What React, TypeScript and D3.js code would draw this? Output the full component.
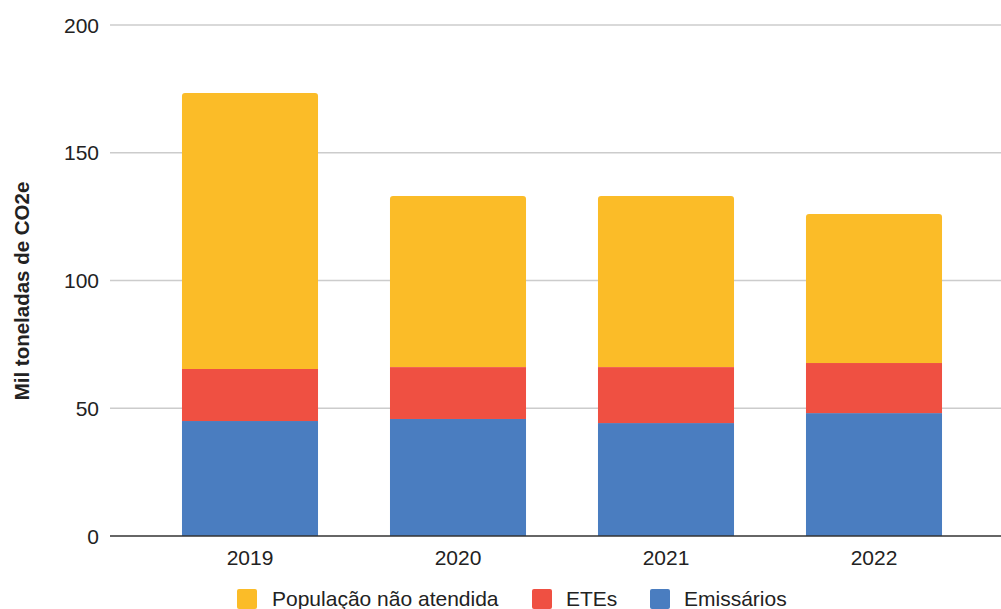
import React from "react";
import * as d3 from "d3";

const years = ["2019", "2020", "2021", "2022"];
const emissarios = [45.0, 45.8, 44.2, 48.1];
const etes = [20.4, 20.3, 21.9, 19.6];
const populacao = [108.0, 67.0, 67.0, 58.3];
const seriesNames = ["Emissários", "ETEs", "População não atendida"];
const seriesColors = ["#4A7DC0", "#EF5042", "#FBBC28"];
const yTicks = [0, 50, 100, 150, 200];
const legendOrder = [2, 1, 0];

export default function App() {
  const W = 1001, H = 609;
  const left = 110, right = 1001;
  const y = d3.scaleLinear().domain([0, 200]).range([536, 25]);
  const x = d3.scaleBand().domain(years).range([146, 978]).paddingInner(0.346).paddingOuter(0.173);
  const rows = years.map((yr, i) => ({ year: yr, s0: emissarios[i], s1: etes[i], s2: populacao[i] }));
  const stack = d3.stack<any>().keys(["s0", "s1", "s2"])(rows);
  const font = "Arial, 'Liberation Sans', sans-serif";
  const bw = x.bandwidth();

  const legendItems = [
    { x: 237, tx: 272 },
    { x: 532, tx: 566 },
    { x: 650, tx: 684 },
  ];

  return (
    <svg width={W} height={H} style={{ position: "absolute", left: 0, top: 0 }}>
      <rect width={W} height={H} fill="#fff" />
      {yTicks.filter(t => t !== 0).map(t => (
        <line key={t} x1={left} x2={right} y1={y(t)} y2={y(t)} stroke="#cccccc" strokeWidth={1.5} />
      ))}
      {yTicks.map(t => (
        <text key={t} x={99} y={y(t)} dy="0.36em" textAnchor="end" fontFamily={font} fontSize={21} fill="#222">{t}</text>
      ))}
      {stack.map((layer, li) => (
        <g key={li} fill={seriesColors[li]}>
          {layer.map((d, i) => {
            const x0 = x(years[i])!;
            const y0 = y(d[1]);
            const h = y(d[0]) - y(d[1]);
            if (li === 2) {
              const r = 3;
              const path = `M${x0},${y0 + h} V${y0 + r} Q${x0},${y0} ${x0 + r},${y0} H${x0 + bw - r} Q${x0 + bw},${y0} ${x0 + bw},${y0 + r} V${y0 + h} Z`;
              return <path key={i} d={path} />;
            }
            return <rect key={i} x={x0} y={y0} width={bw} height={h} />;
          })}
        </g>
      ))}
      <line x1={left} x2={right} y1={y(0)} y2={y(0)} stroke="#333" strokeWidth={1.5} />
      {years.map(yr => (
        <text key={yr} x={x(yr)! + bw / 2} y={565} textAnchor="middle" fontFamily={font} fontSize={21} fill="#222">{yr}</text>
      ))}
      <text transform={`translate(29,${291}) rotate(-90)`} textAnchor="middle" fontFamily={font} fontSize={20.5} fontWeight="bold" fill="#222">Mil toneladas de CO2e</text>
      {legendOrder.map((si, k) => (
        <g key={si}>
          <rect x={legendItems[k].x} y={589} width={20} height={20} rx={2} fill={seriesColors[si]} />
          <text x={legendItems[k].tx} y={606} fontFamily={font} fontSize={21} fill="#222">{seriesNames[si]}</text>
        </g>
      ))}
    </svg>
  );
}
